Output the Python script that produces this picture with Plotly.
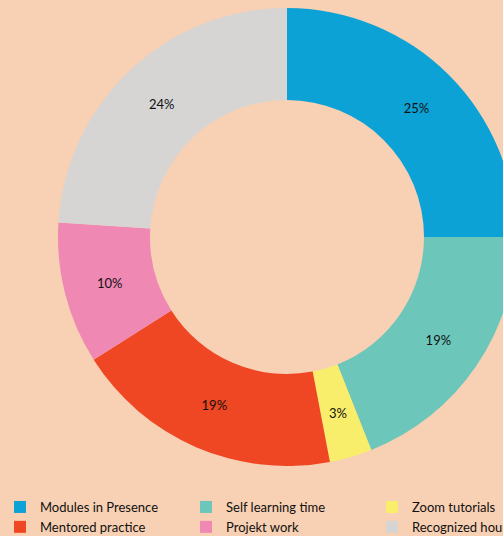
import plotly.graph_objects as go

labels = ["Modules in Presence", "Self learning time", "Zoom tutorials",
          "Mentored practice", "Projekt work", "Recognized hours"]
values = [25, 19, 3, 19, 10, 24]
colors = ["#0DA2D5", "#6CC7BA", "#F9EE6B", "#EF4623", "#F088B4", "#D6D5D4"]

W, H = 600, 542
BG = "#F8D0B3"
CX, CY, R_OUT, R_IN = 287, 237, 229, 137

# narrow slices get their label drawn by a transparent overlay ring so the
# label sits mid-ring like the others
small = [v < 5 for v in values]
main_text = ["" if s else "%{percent:.0%}" for s in small]
over_text = ["%{percent:.0%}" if s else "" for s in small]

fig = go.Figure()
fig.add_trace(go.Pie(
    labels=labels,
    values=values,
    sort=False,
    direction="clockwise",
    rotation=0,
    hole=R_IN / R_OUT,
    marker=dict(colors=colors, line=dict(width=0)),
    texttemplate=main_text,
    textposition="inside",
    insidetextorientation="horizontal",
    textfont=dict(family="Lato", size=13, color="#111111"),
    domain=dict(x=[(CX - R_OUT) / W, (CX + R_OUT) / W],
                y=[1 - (CY + R_OUT) / H, 1 - (CY - R_OUT) / H]),
    hoverinfo="label+percent",
))

R2 = 200
fig.add_trace(go.Pie(
    labels=labels,
    values=values,
    sort=False,
    direction="clockwise",
    rotation=0,
    hole=0.5,
    marker=dict(colors=["rgba(0,0,0,0)"] * len(values), line=dict(width=0)),
    texttemplate=over_text,
    textposition="inside",
    insidetextorientation="horizontal",
    textfont=dict(family="Lato", size=13, color="#111111"),
    domain=dict(x=[(CX - R2) / W, (CX + R2) / W],
                y=[1 - (CY + R2) / H, 1 - (CY - R2) / H]),
    hoverinfo="skip",
    showlegend=False,
))

fig.update_layout(
    width=W, height=H,
    margin=dict(l=0, r=0, t=0, b=0),
    paper_bgcolor=BG,
    plot_bgcolor=BG,
    showlegend=True,
    legend=dict(
        orientation="h",
        x=0, xanchor="left",
        y=0, yanchor="bottom",
        entrywidth=141, entrywidthmode="pixels",
        font=dict(family="Lato", size=13, color="#111111"),
        bgcolor="rgba(0,0,0,0)",
        traceorder="normal",
    ),
)

fig.write_html("out.html",
               post_script="document.body.style.margin='0';document.body.style.overflow='hidden';")
